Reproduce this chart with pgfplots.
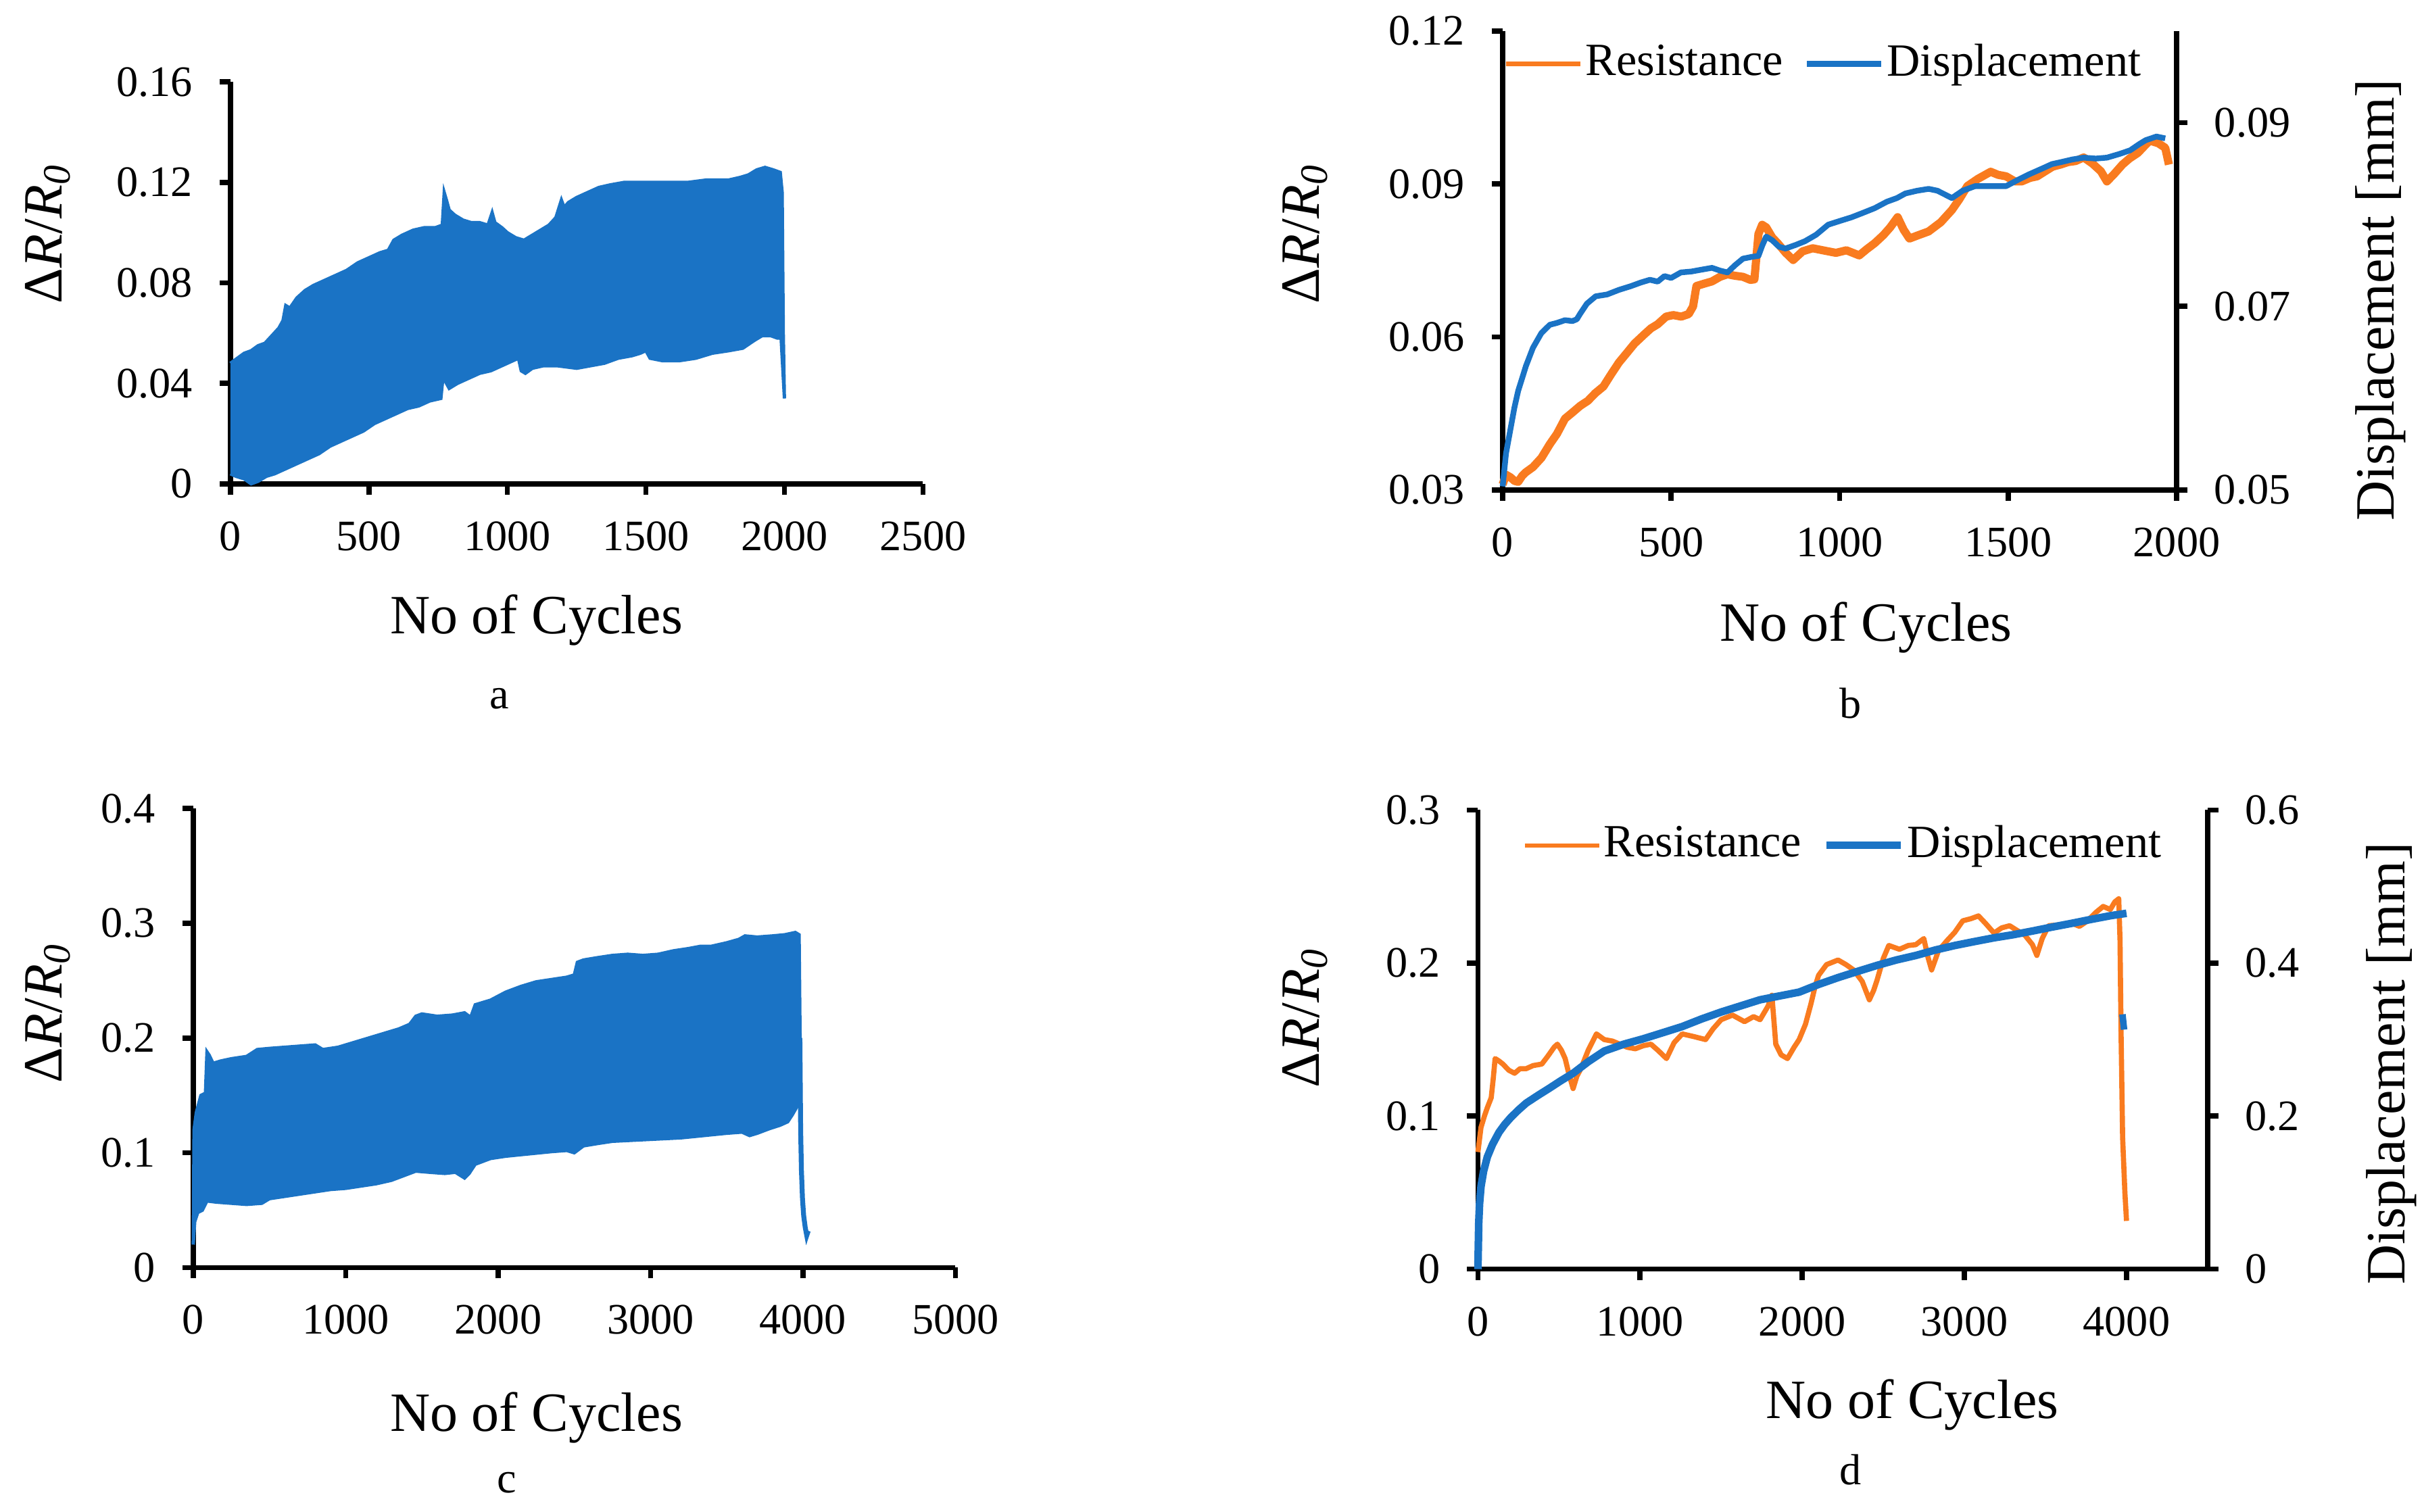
\documentclass[border=0pt]{standalone}
\usepackage{fontspec}
\setmainfont{Liberation Serif}
\usepackage{pgfplots}
\usepackage{pgfplotstable}
\pgfplotsset{compat=1.18}

\definecolor{bandblue}{HTML}{1A73C5}
\definecolor{resorange}{HTML}{F97B1F}

\newcommand{\tickfont}{\fontsize{8}{9.6}\selectfont}
\newcommand{\labfont}{\fontsize{10.2}{12}\selectfont}
\newcommand{\drr}{Δ\textit{R}/\textit{R}\textsubscript{\textit{0}}}

% panel a: band of the oscillating signal (upper edge, then lower edge back)
\pgfplotstableread{
x y
0 0.048
25 0.050
50 0.052
75 0.053
100 0.055
125 0.056
150 0.059
175 0.062
190 0.065
200 0.071
215 0.070
240 0.074
270 0.077
300 0.079
340 0.081
380 0.083
420 0.085
460 0.088
500 0.090
540 0.092
570 0.093
590 0.097
620 0.099
660 0.101
700 0.102
740 0.102
765 0.103
772 0.116
780 0.113
790 0.109
810 0.107
840 0.105
870 0.104
900 0.104
930 0.103
945 0.108
955 0.104
980 0.102
1000 0.100
1030 0.098
1060 0.097
1090 0.099
1120 0.101
1150 0.103
1175 0.106
1195 0.113
1205 0.110
1220 0.112
1250 0.114
1290 0.116
1330 0.118
1370 0.119
1420 0.120
1500 0.120
1580 0.120
1650 0.120
1720 0.121
1800 0.121
1840 0.122
1870 0.123
1900 0.125
1930 0.126
1960 0.125
1985 0.124
1992 0.116
1996 0.060
2000 0.034
1992 0.050
1988 0.058
1975 0.058
1950 0.059
1920 0.059
1890 0.057
1850 0.054
1800 0.053
1740 0.052
1680 0.050
1620 0.049
1560 0.049
1515 0.050
1500 0.053
1480 0.052
1450 0.051
1400 0.050
1350 0.048
1300 0.047
1250 0.046
1180 0.047
1130 0.047
1090 0.046
1065 0.044
1050 0.045
1040 0.050
1020 0.049
980 0.047
940 0.045
900 0.044
860 0.042
820 0.040
790 0.038
775 0.041
768 0.043
760 0.034
720 0.033
680 0.031
640 0.030
600 0.028
560 0.026
520 0.024
480 0.021
440 0.019
400 0.017
360 0.015
320 0.012
280 0.010
240 0.008
200 0.006
160 0.004
130 0.003
100 0.001
75 0.000
50 0.002
20 0.003
0 0.004
}\bandA

% panel b
\pgfplotstableread{
x y
0 0.0311
10 0.0330
23 0.0325
35 0.0318
46 0.0316
58 0.0328
69 0.0335
90 0.0345
115 0.0363
140 0.0390
161 0.0410
185 0.0440
207 0.0452
230 0.0465
253 0.0475
275 0.0490
299 0.0503
320 0.0525
345 0.0550
370 0.0570
391 0.0587
420 0.0605
440 0.0617
460 0.0625
485 0.0640
506 0.0643
530 0.0640
552 0.0645
565 0.0660
575 0.0700
600 0.0705
621 0.0709
645 0.0718
667 0.0723
690 0.0720
713 0.0718
735 0.0712
747 0.0713
759 0.0802
770 0.0820
782 0.0815
800 0.0795
816 0.0784
840 0.0765
862 0.0751
890 0.0768
920 0.0774
950 0.0770
989 0.0765
1020 0.0770
1058 0.0760
1080 0.0772
1104 0.0784
1130 0.0800
1150 0.0815
1172 0.0835
1190 0.0810
1207 0.0793
1235 0.0800
1264 0.0807
1300 0.0825
1333 0.0849
1355 0.0870
1379 0.0896
1410 0.0910
1448 0.0924
1470 0.0918
1494 0.0915
1520 0.0905
1540 0.0905
1565 0.0912
1586 0.0915
1610 0.0925
1632 0.0934
1655 0.0938
1678 0.0943
1700 0.0945
1724 0.0952
1750 0.0940
1775 0.0925
1793 0.0905
1815 0.0920
1839 0.0938
1860 0.0950
1885 0.0961
1905 0.0975
1920 0.0985
1945 0.0980
1966 0.0971
1977 0.0938
}\resB
\pgfplotstableread{
x y
0 0.0504
10 0.0540
23 0.0566
35 0.0590
46 0.0608
58 0.0622
69 0.0635
90 0.0655
115 0.0671
140 0.0680
161 0.0682
185 0.0685
207 0.0684
220 0.0686
230 0.0692
250 0.0703
276 0.0711
310 0.0713
345 0.0718
380 0.0722
410 0.0726
437 0.0729
460 0.0727
480 0.0733
500 0.0731
529 0.0737
560 0.0738
590 0.0740
621 0.0742
645 0.0739
667 0.0737
690 0.0745
713 0.0752
740 0.0754
759 0.0755
770 0.0766
782 0.0776
800 0.0772
820 0.0765
839 0.0763
870 0.0767
897 0.0771
930 0.0778
966 0.0789
1000 0.0793
1035 0.0797
1070 0.0802
1104 0.0807
1140 0.0814
1170 0.0818
1195 0.0823
1230 0.0826
1264 0.0828
1290 0.0826
1333 0.0818
1365 0.0826
1402 0.0831
1450 0.0831
1494 0.0831
1530 0.0838
1563 0.0844
1600 0.0850
1630 0.0855
1655 0.0857
1690 0.0860
1724 0.0862
1760 0.0861
1793 0.0862
1830 0.0866
1862 0.0870
1890 0.0877
1908 0.0881
1940 0.0885
1966 0.0883
}\dispB

% panel c: band (upper edge, then lower edge back) and the final drop
\pgfplotstableread{
x y
0 0.020
5 0.120
20 0.135
50 0.150
80 0.152
90 0.188
105 0.185
130 0.178
180 0.180
250 0.182
350 0.184
420 0.190
500 0.191
600 0.192
700 0.193
800 0.194
850 0.190
950 0.192
1050 0.196
1150 0.200
1250 0.204
1350 0.208
1420 0.212
1460 0.219
1500 0.221
1600 0.219
1700 0.220
1780 0.222
1820 0.218
1850 0.229
1950 0.233
2050 0.240
2150 0.245
2250 0.249
2350 0.251
2450 0.253
2500 0.255
2520 0.266
2560 0.268
2650 0.270
2750 0.272
2850 0.273
2950 0.272
3050 0.273
3150 0.276
3250 0.278
3330 0.280
3400 0.280
3500 0.283
3580 0.286
3620 0.289
3700 0.288
3800 0.289
3880 0.290
3950 0.292
3975 0.290
3985 0.150
3960 0.140
3930 0.133
3900 0.127
3850 0.124
3780 0.121
3700 0.117
3650 0.115
3600 0.118
3500 0.117
3350 0.115
3200 0.113
3050 0.112
2900 0.111
2750 0.110
2650 0.108
2560 0.106
2500 0.100
2450 0.102
2350 0.101
2200 0.099
2050 0.097
1950 0.095
1850 0.090
1810 0.082
1780 0.078
1720 0.083
1650 0.082
1550 0.083
1460 0.084
1380 0.080
1300 0.076
1200 0.073
1100 0.071
1000 0.069
900 0.068
800 0.066
700 0.064
600 0.062
500 0.060
450 0.056
350 0.055
250 0.056
150 0.057
90 0.058
60 0.050
30 0.048
10 0.040
0 0.020
}\bandC
\pgfplotstableread{
x y
3980 0.200
3985 0.120
3990 0.085
3997 0.060
4005 0.045
4015 0.035
4025 0.028
4035 0.032
}\tailC

% panel d
\pgfplotstableread{
x y
0 0.0765
10 0.085
19 0.0926
40 0.100
58 0.1055
82 0.112
95 0.125
106 0.1376
130 0.136
154 0.134
190 0.130
226 0.128
260 0.131
298 0.131
340 0.133
394 0.134
430 0.139
470 0.145
490 0.147
515 0.143
538 0.1376
560 0.128
587 0.118
610 0.126
635 0.131
680 0.143
731 0.1537
779 0.150
830 0.149
875 0.147
920 0.145
971 0.144
1020 0.146
1067 0.147
1110 0.143
1163 0.1376
1210 0.148
1260 0.1537
1330 0.152
1404 0.150
1450 0.157
1500 0.163
1570 0.166
1644 0.1617
1700 0.165
1740 0.163
1790 0.172
1813 0.179
1837 0.147
1870 0.140
1909 0.1376
1950 0.145
1981 0.150
2020 0.160
2053 0.173
2080 0.185
2101 0.192
2150 0.199
2221 0.202
2270 0.199
2317 0.1955
2370 0.188
2414 0.176
2440 0.182
2462 0.189
2500 0.203
2534 0.2115
2600 0.209
2654 0.2115
2700 0.212
2750 0.216
2775 0.204
2798 0.1955
2840 0.208
2894 0.2148
2940 0.220
2990 0.2276
3040 0.229
3087 0.2308
3130 0.226
3183 0.2196
3230 0.223
3279 0.2244
3330 0.221
3375 0.218
3420 0.212
3447 0.205
3480 0.216
3519 0.2244
3590 0.225
3664 0.226
3710 0.224
3760 0.2276
3810 0.233
3856 0.237
3900 0.235
3928 0.240
3952 0.242
3960 0.215
3966 0.157
3976 0.086
3990 0.050
4000 0.0315
}\resD
\pgfplotstableread{
x y
0 0.000
5 0.060
10 0.085
19 0.108
35 0.128
58 0.1466
90 0.163
130 0.1788
165 0.189
202 0.198
250 0.208
298 0.217
370 0.227
442 0.2366
510 0.246
587 0.256
680 0.271
779 0.285
900 0.294
1019 0.301
1140 0.309
1260 0.317
1380 0.327
1500 0.336
1620 0.344
1740 0.352
1860 0.357
1981 0.362
2100 0.372
2221 0.381
2340 0.389
2462 0.397
2580 0.404
2702 0.410
2820 0.417
2942 0.423
3060 0.428
3183 0.433
3300 0.437
3423 0.442
3540 0.447
3664 0.452
3780 0.457
3904 0.462
4000 0.465
}\dispD
\pgfplotstableread{
x y
3975 0.333
3985 0.313
}\blipD

\pgfplotsset{
  panel/.style={
    scale only axis, anchor=south west, enlargelimits=false, clip=false,
    axis line style={line width=0.95pt},
    every tick/.style={black, line width=0.95pt},
    major tick length=0.07cm, tick align=outside,
    xticklabel style={font=\tickfont, yshift=-0.05cm},
    yticklabel style={font=\tickfont, xshift=-0.05cm},
  },
  leg/.style={
    legend style={draw=none, fill=none, font=\fontsize{8.5}{10}\selectfont,
      legend columns=-1, inner sep=0pt,
      /tikz/every even column/.append style={column sep=0.12cm},
      nodes={inner sep=0.5pt}},
    legend image code/.code={\draw[##1] (0cm,0cm) -- (0.48cm,0cm);},
  },
}

\begin{document}
\begin{tikzpicture}
\path[use as bounding box] (0,0) rectangle (15.68,-9.78);

% ---------- a ----------
\begin{axis}[panel, at={(1.49cm,-3.13cm)}, width=4.48cm, height=2.60cm,
  axis x line*=bottom, axis y line*=left,
  xmin=0, xmax=2500, ymin=0, ymax=0.16,
  xtick={0,500,1000,1500,2000,2500}, xticklabels={0,500,1000,1500,2000,2500},
  ytick={0,0.04,0.08,0.12,0.16}, yticklabels={0,0.04,0.08,0.12,0.16}]
  \addplot[fill=bandblue, draw=bandblue, line width=0.6pt] table {\bandA};
\end{axis}
\node[rotate=90, font=\labfont] at (0.31,-1.51) {\drr};
\node[font=\labfont] at (3.47,-4.01) {No of Cycles};
\node[font=\tickfont] at (3.23,-4.52) {a};

% ---------- b ----------
\begin{axis}[panel, at={(9.72cm,-3.17cm)}, width=4.36cm, height=2.97cm,
  axis x line*=bottom, axis y line*=left,
  xmin=0, xmax=2000, ymin=0.03, ymax=0.12,
  xtick={0,500,1000,1500,2000}, xticklabels={0,500,1000,1500,2000},
  ytick={0.03,0.06,0.09,0.12}, yticklabels={0.03,0.06,0.09,0.12}]
  \addplot[resorange, line width=1.5pt, line join=round] table {\resB};
\end{axis}
\begin{axis}[panel, leg, at={(9.72cm,-3.17cm)}, width=4.36cm, height=2.97cm,
  hide x axis, axis y line*=right,
  xmin=0, xmax=2000, ymin=0.05, ymax=0.10,
  ytick={0.05,0.07,0.09}, yticklabels={0.05,0.07,0.09},
  yticklabel style={font=\tickfont, xshift=0.1cm},
  legend style={at={(axis description cs:0.0,0.98)}, anchor=north west}]
  \addlegendimage{resorange, line width=0.9pt}
  \addlegendentry{Resistance}
  \addplot[bandblue, line width=1.05pt, line join=round] table {\dispB};
  \addlegendentry{Displacement}
\end{axis}
\node[rotate=90, font=\labfont] at (8.44,-1.51) {\drr};
\node[rotate=90, font=\labfont] at (15.40,-1.94) {Displacement [mm]};
\node[font=\labfont] at (12.07,-4.06) {No of Cycles};
\node[font=\tickfont] at (11.97,-4.55) {b};

% ---------- c ----------
\begin{axis}[panel, at={(1.25cm,-8.20cm)}, width=4.93cm, height=2.97cm,
  axis x line*=bottom, axis y line*=left,
  xmin=0, xmax=5000, ymin=0, ymax=0.4,
  xtick={0,1000,2000,3000,4000,5000}, xticklabels={0,1000,2000,3000,4000,5000},
  ytick={0,0.1,0.2,0.3,0.4}, yticklabels={0,0.1,0.2,0.3,0.4}]
  \addplot[fill=bandblue, draw=bandblue, line width=0.6pt] table {\bandC};
  \addplot[bandblue, line width=0.9pt] table {\tailC};
\end{axis}
\node[rotate=90, font=\labfont] at (0.31,-6.55) {\drr};
\node[font=\labfont] at (3.47,-9.17) {No of Cycles};
\node[font=\tickfont] at (3.28,-9.59) {c};

% ---------- d ----------
\begin{axis}[panel, at={(9.56cm,-8.21cm)}, width=4.72cm, height=2.97cm,
  axis x line*=bottom, axis y line*=left,
  xmin=0, xmax=4500, ymin=0, ymax=0.3,
  xtick={0,1000,2000,3000,4000}, xticklabels={0,1000,2000,3000,4000},
  ytick={0,0.1,0.2,0.3}, yticklabels={0,0.1,0.2,0.3}]
  \addplot[resorange, line width=0.95pt, line join=round] table {\resD};
\end{axis}
\begin{axis}[panel, leg, at={(9.56cm,-8.21cm)}, width=4.72cm, height=2.97cm,
  hide x axis, axis y line*=right,
  xmin=0, xmax=4500, ymin=0, ymax=0.6,
  ytick={0,0.2,0.4,0.6}, yticklabels={0,0.2,0.4,0.6},
  yticklabel style={font=\tickfont, xshift=0.1cm},
  legend style={at={(axis description cs:0.06,0.975)}, anchor=north west}]
  \addlegendimage{resorange, line width=0.8pt}
  \addlegendentry{Resistance}
  \addplot[bandblue, line width=1.4pt, line join=round] table {\dispD};
  \addlegendentry{Displacement}
  \addplot[bandblue, line width=1.2pt, forget plot] table {\blipD};
\end{axis}
\node[rotate=90, font=\labfont] at (8.44,-6.58) {\drr};
\node[rotate=90, font=\labfont] at (15.47,-6.88) {Displacement [mm]};
\node[font=\labfont] at (12.37,-9.09) {No of Cycles};
\node[font=\tickfont] at (11.97,-9.51) {d};
\end{tikzpicture}
\end{document}
